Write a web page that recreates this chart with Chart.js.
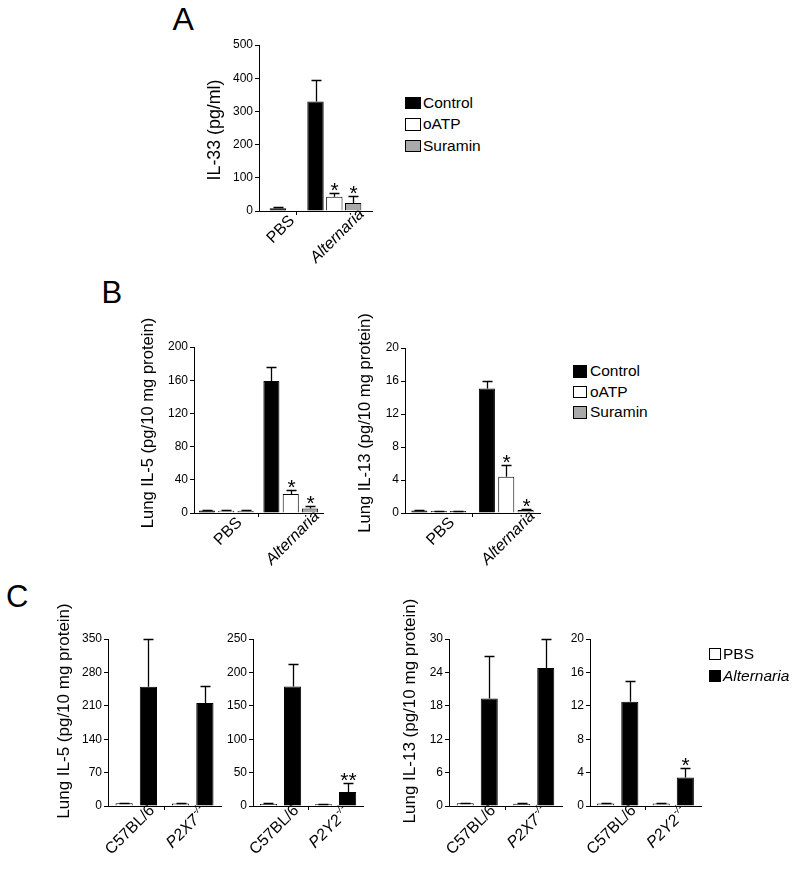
<!DOCTYPE html>
<html><head><meta charset="utf-8">
<script src="https://cdn.jsdelivr.net/npm/chart.js@4.4.0/dist/chart.umd.min.js"></script>
<style>
html,body{margin:0;padding:0;background:#fff;}
#page{position:relative;width:800px;height:869px;overflow:hidden;background:#fff;font-family:Arial,"Liberation Sans",sans-serif;color:#000;}
canvas{position:absolute;}
.letter{position:absolute;line-height:1;}
.leg{position:absolute;display:flex;align-items:center;white-space:nowrap;font-size:15.5px;}
.leg .sw{border:1px solid #000;box-sizing:border-box;flex:none;}
</style></head><body><div id="page"></div>
<script>
// ---------- DATA ----------
// Panel A : IL-33 (pg/ml)
const slotsA = ['', 'PBS', '', 'Alternaria', 'Alternaria', 'Alternaria', ''];
const il33Control    = [null, 8,    null, 330,  null, null, null];
const il33ControlErr = [null, 5,    null, 65,   null, null, null];
const il33OATP       = [null, null, null, null, 43,   null, null];
const il33OATPErr    = [null, null, null, null, 10,   null, null];
const il33OATPSig    = ['',   '',   '',   '',   '*',  '',   ''];
const il33Suramin    = [null, null, null, null, null, 24,   null];
const il33SuraminErr = [null, null, null, null, null, 22,   null];
const il33SuraminSig = ['',   '',   '',   '',   '',   '*',  ''];

// Panel B : treatment groups
const groupsB = ['PBS', 'Alternaria'];
const il5Control    = [3, 159];
const il5ControlErr = [0.6, 17];
const il5OATP       = [2.8, 23];
const il5OATPErr    = [0.5, 5];
const il5OATPSig    = ['', '*'];
const il5Suramin    = [2.8, 5.5];
const il5SuraminErr = [0.5, 2.5];
const il5SuraminSig = ['', '*'];

const il13Control    = [0.3, 15.1];
const il13ControlErr = [0.05, 0.9];
const il13OATP       = [0.25, 4.4];
const il13OATPErr    = [0.05, 1.4];
const il13OATPSig    = ['', '*'];
const il13Suramin    = [0.25, 0.35];
const il13SuraminErr = [0.05, 0.15];
const il13SuraminSig = ['', '*'];

// Panel C : knockout strains
const strainsP2X7 = ['C57BL/6', 'P2X7-/-'];
const strainsP2Y2 = ['C57BL/6', 'P2Y2-/-'];
const il5PbsX7    = [6, 5];
const il5PbsX7Err = [1, 0.5];
const il5AltX7    = [250, 216];
const il5AltX7Err = [99, 36];
const il5PbsY2    = [3, 2.5];
const il5PbsY2Err = [1, 0.5];
const il5AltY2    = [179, 21];
const il5AltY2Err = [33, 14];
const il5AltY2Sig = ['', '**'];
const il13PbsX7    = [0.5, 0.4];
const il13PbsX7Err = [0.1, 0.05];
const il13AltX7    = [19.3, 24.8];
const il13AltX7Err = [7.6, 5.2];
const il13PbsY2    = [0.3, 0.3];
const il13PbsY2Err = [0.05, 0.05];
const il13AltY2    = [12.5, 3.4];
const il13AltY2Err = [2.5, 1.1];
const il13AltY2Sig = ['', '*'];

// Series names and axis titles
const treatSeries = ['Control', 'oATP', 'Suramin'];
const mouseSeries = ['PBS', 'Alternaria'];
const titleIL33 = 'IL-33 (pg/ml)';
const titleIL5 = 'Lung IL-5 (pg/10 mg protein)';
const titleIL13 = 'Lung IL-13 (pg/10 mg protein)';

// ---------- STYLE ----------
const FONT = 'Arial, "Liberation Sans", sans-serif';
const treatColors = ['#000000', '#ffffff', '#a9a9a9'];
const mouseColors = ['#ffffff', '#000000'];
const italicWords = ['Alternaria'];

Chart.defaults.font.family = FONT;
Chart.defaults.color = '#000';
Chart.defaults.animation = false;

const page = document.getElementById('page');

function annotPlugin(p) {
  return {
    id: 'annot',
    afterDatasetsDraw(chart) {
      const ctx = chart.ctx;
      const ys = chart.scales.y, xs = chart.scales.x;
      // error bars + significance
      chart.data.datasets.forEach((ds, di) => {
        const meta = chart.getDatasetMeta(di);
        meta.data.forEach((el, j) => {
          const v = ds.data[j];
          if (v === null || v === undefined) return;
          const e = ds.errors ? ds.errors[j] : 0;
          let topY = el.y;
          const x = Math.round(el.x) + 0.5;
          if (e) {
            const yt = Math.round(ys.getPixelForValue(v + e)) + 0.5;
            ctx.save();
            ctx.strokeStyle = '#000';
            ctx.lineWidth = 1.3;
            ctx.beginPath();
            ctx.moveTo(x, el.y);
            ctx.lineTo(x, yt);
            ctx.moveTo(x - 5, yt);
            ctx.lineTo(x + 5, yt);
            ctx.stroke();
            ctx.restore();
            topY = yt;
          }
          const s = ds.sig ? ds.sig[j] : '';
          if (s) {
            ctx.save();
            ctx.fillStyle = '#000';
            ctx.font = '21px ' + FONT;
            ctx.textAlign = 'center';
            ctx.textBaseline = 'alphabetic';
            ctx.fillText(s, x, topY + 3.5);
            ctx.restore();
          }
        });
      });
      // y-axis title (drawn without width limit)
      if (p.yTitle) {
        ctx.save();
        ctx.translate(p.titleX - p.canvasLeft, p.titleY - p.canvasTop);
        ctx.rotate(-Math.PI / 2);
        ctx.fillStyle = '#000';
        ctx.font = p.titleSize + 'px ' + FONT;
        ctx.textAlign = 'center';
        ctx.textBaseline = 'middle';
        ctx.fillText(p.yTitle, 0, 0);
        ctx.restore();
      }
      // group labels (rotated)
      const labels = chart.data.labels;
      const groups = [];
      labels.forEach((lab, i) => {
        if (!lab) return;
        const last = groups[groups.length - 1];
        if (last && last.text === lab && last.end === i - 1) {
          last.end = i; last.px.push(xs.getPixelForValue(i));
        } else {
          groups.push({ text: lab, end: i, px: [xs.getPixelForValue(i)] });
        }
      });
      groups.forEach(g => {
        const m = g.text.match(/^(.*?)(-\/-)$/);
        const base = m ? m[1] : g.text;
        const sup = m ? m[2] : '';
        const italic = !!m || italicWords.includes(base);
        const baseFont = (italic ? 'italic ' : '') + p.labelSize + 'px ' + FONT;
        const supFont = (italic ? 'italic ' : '') + '10.5px ' + FONT;
        ctx.save();
        ctx.font = baseFont;
        const w1 = ctx.measureText(base).width;
        let w2 = 0;
        if (sup) { ctx.font = supFont; w2 = ctx.measureText(sup).width + 1; }
        const total = w1 + w2;
        const half = total / 2 * Math.SQRT1_2;
        const cx = g.px.reduce((a, b) => a + b, 0) / g.px.length + p.labelDx;
        const cy = xs.top + 13 + 0.5 * half + p.labelDy;
        ctx.translate(cx, cy);
        ctx.rotate(-Math.PI / 4);
        ctx.fillStyle = '#000';
        ctx.textAlign = 'left';
        ctx.textBaseline = 'middle';
        ctx.font = baseFont;
        ctx.fillText(base, -total / 2, 0);
        if (sup) {
          ctx.font = supFont;
          ctx.fillText(sup, -total / 2 + w1 + 1, -5.5);
        }
        ctx.restore();
      });
    }
  };
}

function makePanel(p) {
  const T = 42, R = 22, H = 75;
  const cw = p.yw + p.plotW + R, ch = T + p.plotH + H;
  p.canvasLeft = p.axisX - p.yw;
  p.canvasTop = p.plotTop - T;
  const canvas = document.createElement('canvas');
  canvas.width = cw; canvas.height = ch;
  canvas.style.left = p.canvasLeft + 'px';
  canvas.style.top = p.canvasTop + 'px';
  canvas.style.width = cw + 'px';
  canvas.style.height = ch + 'px';
  page.appendChild(canvas);
  const slotMode = !!p.slotMode;
  new Chart(canvas, {
    type: 'bar',
    data: {
      labels: p.labels,
      datasets: p.series.map(s => ({
        label: s.name, data: s.values, errors: s.errors, sig: s.sig,
        backgroundColor: s.color, borderColor: '#000', borderWidth: 1,
        skipNull: slotMode,
        categoryPercentage: p.catPct, barPercentage: p.barPct
      }))
    },
    options: {
      responsive: false, animation: false, events: [],
      layout: { padding: { top: T, right: R, left: 0, bottom: 0 } },
      plugins: { legend: { display: false }, tooltip: { enabled: false }, title: { display: false } },
      scales: {
        x: {
          offset: !slotMode,
          grid: {
            offset: !slotMode, drawOnChartArea: false, drawTicks: true, tickLength: 4, lineWidth: 1,
            color: c => (c.index === p.tickIdx ? '#000' : 'rgba(0,0,0,0)')
          },
          border: { display: true, color: '#000', width: 1 },
          ticks: { display: false, autoSkip: false },
          afterFit: s => { s.height = H; }
        },
        y: {
          min: 0, max: p.yMax,
          ticks: { stepSize: p.yStep, font: { size: 12 }, color: '#000', padding: 2 },
          grid: { drawOnChartArea: false, drawTicks: true, tickLength: 4, color: '#000' },
          border: { display: true, color: '#000', width: 1 },
          title: { display: false },
          afterFit: s => { s.width = p.yw; }
        }
      }
    },
    plugins: [annotPlugin(p)]
  });
}

function ser(names, colors, vals, errs, sigs) {
  return names.map((n, i) => ({ name: n, color: colors[i], values: vals[i], errors: errs[i], sig: sigs[i] }));
}

// Panel A
makePanel({
  axisX: 259, plotTop: 45, plotW: 113, plotH: 166, yw: 60,
  yMax: 500, yStep: 100, yTitle: titleIL33, titleSize: 17.8, titleX: 215, titleY: 130,
  labels: slotsA, slotMode: true, tickIdx: 2, catPct: 1, barPct: 0.87,
  labelSize: 16, labelDx: 3, labelDy: 0,
  series: ser(treatSeries, treatColors,
    [il33Control, il33OATP, il33Suramin],
    [il33ControlErr, il33OATPErr, il33SuraminErr],
    [null, il33OATPSig, il33SuraminSig])
});
// Panel B left
makePanel({
  axisX: 194, plotTop: 347, plotW: 129, plotH: 166, yw: 60,
  yMax: 200, yStep: 40, yTitle: titleIL5, titleSize: 16.6, titleX: 148, titleY: 423,
  labels: groupsB, tickIdx: 1, catPct: 0.9, barPct: 0.83,
  labelSize: 16, labelDx: 2, labelDy: 0,
  series: ser(treatSeries, treatColors,
    [il5Control, il5OATP, il5Suramin],
    [il5ControlErr, il5OATPErr, il5SuraminErr],
    [null, il5OATPSig, il5SuraminSig])
});
// Panel B right
makePanel({
  axisX: 405, plotTop: 348, plotW: 135, plotH: 165, yw: 60,
  yMax: 20, yStep: 4, yTitle: titleIL13, titleSize: 16.6, titleX: 365, titleY: 423,
  labels: groupsB, tickIdx: 1, catPct: 0.86, barPct: 0.83,
  labelSize: 16, labelDx: 2, labelDy: 0,
  series: ser(treatSeries, treatColors,
    [il13Control, il13OATP, il13Suramin],
    [il13ControlErr, il13OATPErr, il13SuraminErr],
    [null, il13OATPSig, il13SuraminSig])
});
// Panel C
makePanel({
  axisX: 108, plotTop: 639, plotW: 113, plotH: 167, yw: 60,
  yMax: 350, yStep: 70, yTitle: titleIL5, titleSize: 17, titleX: 64, titleY: 711,
  labels: strainsP2X7, tickIdx: 1, catPct: 0.86, barPct: 0.71,
  labelSize: 16, labelDx: -6, labelDy: 0,
  series: ser(mouseSeries, mouseColors, [il5PbsX7, il5AltX7], [il5PbsX7Err, il5AltX7Err], [null, null])
});
makePanel({
  axisX: 253, plotTop: 639, plotW: 110, plotH: 167, yw: 45,
  yMax: 250, yStep: 50, yTitle: '',
  labels: strainsP2Y2, tickIdx: 1, catPct: 0.88, barPct: 0.71,
  labelSize: 16, labelDx: -6, labelDy: 0,
  series: ser(mouseSeries, mouseColors, [il5PbsY2, il5AltY2], [il5PbsY2Err, il5AltY2Err], [null, il5AltY2Sig])
});
makePanel({
  axisX: 449, plotTop: 639, plotW: 113, plotH: 167, yw: 60,
  yMax: 30, yStep: 6, yTitle: titleIL13, titleSize: 17, titleX: 410, titleY: 711,
  labels: strainsP2X7, tickIdx: 1, catPct: 0.85, barPct: 0.71,
  labelSize: 16, labelDx: -6, labelDy: 0,
  series: ser(mouseSeries, mouseColors, [il13PbsX7, il13AltX7], [il13PbsX7Err, il13AltX7Err], [null, null])
});
makePanel({
  axisX: 590, plotTop: 639, plotW: 111, plotH: 167, yw: 45,
  yMax: 20, yStep: 4, yTitle: '',
  labels: strainsP2Y2, tickIdx: 1, catPct: 0.87, barPct: 0.71,
  labelSize: 16, labelDx: -6, labelDy: 0,
  series: ser(mouseSeries, mouseColors, [il13PbsY2, il13AltY2], [il13PbsY2Err, il13AltY2Err], [null, il13AltY2Sig])
});

// ---------- Legends & panel letters ----------
function legend(names, colors, x, tops, boxW, boxH, gap) {
  names.forEach((n, i) => {
    const row = document.createElement('div');
    row.className = 'leg';
    row.style.left = x + 'px';
    row.style.top = tops[i] + 'px';
    row.style.height = boxH + 'px';
    const sw = document.createElement('span');
    sw.className = 'sw';
    sw.style.width = boxW + 'px';
    sw.style.height = boxH + 'px';
    sw.style.background = colors[i];
    sw.style.marginRight = gap + 'px';
    const t = document.createElement('span');
    t.textContent = n;
    if (italicWords.includes(n)) t.style.fontStyle = 'italic';
    row.appendChild(sw); row.appendChild(t);
    page.appendChild(row);
  });
}
legend(treatSeries, treatColors, 405, [96.5, 118, 139.5], 15.5, 12.5, 2.5);
legend(treatSeries, treatColors, 573, [365, 385.5, 406], 13.5, 12.5, 3.5);
legend(mouseSeries, mouseColors, 708.5, [648, 670], 12, 12, 2.5);

function letter(t, x, top, size) {
  const d = document.createElement('div');
  d.className = 'letter';
  d.textContent = t;
  d.style.left = x + 'px';
  d.style.top = top + 'px';
  d.style.fontSize = size + 'px';
  page.appendChild(d);
}
letter('A', 172.5, 3, 32);
letter('B', 101.5, 276.5, 31);
letter('C', 6, 581, 31);
</script>
</body></html>
